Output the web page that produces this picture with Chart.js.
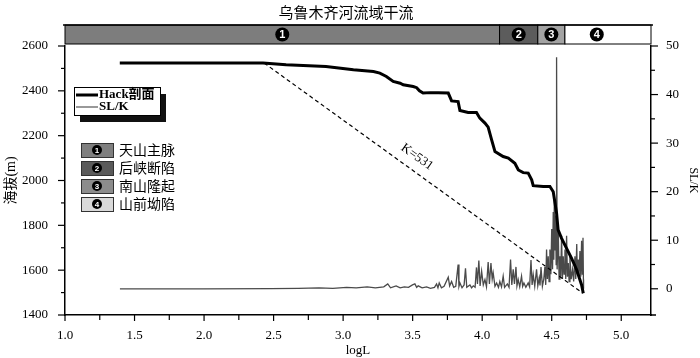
<!DOCTYPE html>
<html>
<head>
<meta charset="utf-8">
<script src="https://cdn.jsdelivr.net/npm/chart.js@4.4.1/dist/chart.umd.min.js"></script>
<style>
body { margin: 0; background: #fff; }
#wrap { width: 700px; height: 358px; }
</style>
</head>
<body>
<div id="wrap"><canvas id="myChart"></canvas></div>
<script>
// Hack profile (logL, elevation m)
var hackX = [1.394, 2.424, 2.590, 2.877, 3.074, 3.218, 3.264, 3.311, 3.360, 3.410, 3.432, 3.504, 3.529, 3.549, 3.575, 3.628, 3.684, 3.756, 3.780, 3.827, 3.840, 3.899, 3.959, 3.983, 4.020, 4.043, 4.068, 4.092, 4.151, 4.188, 4.235, 4.260, 4.295, 4.331, 4.356, 4.367, 4.439, 4.487, 4.511, 4.524, 4.535, 4.546, 4.571, 4.606, 4.643, 4.680, 4.715, 4.727];
var hackY = [2524, 2524, 2516, 2509, 2494, 2486, 2479, 2464, 2442, 2434, 2427, 2419, 2414, 2400, 2390, 2392, 2392, 2390, 2355, 2352, 2312, 2303, 2303, 2278, 2256, 2238, 2181, 2129, 2107, 2100, 2077, 2047, 2035, 2033, 2003, 1977, 1973, 1973, 1950, 1899, 1854, 1780, 1742, 1698, 1653, 1601, 1534, 1497];

// K=531 reference line
var kLineX = [2.432, 4.724];
var kLineY = [2524, 1497];

// SL/K (right axis)
var slkX = [1.395, 1.988, 2.482, 2.679, 2.827, 2.926, 3.025, 3.094, 3.173, 3.232, 3.292, 3.321, 3.341, 3.381, 3.410, 3.440, 3.470, 3.499, 3.516, 3.529, 3.540, 3.568, 3.600, 3.628, 3.657, 3.672, 3.682, 3.691, 3.707, 3.726, 3.756, 3.766, 3.780, 3.795, 3.810, 3.827, 3.833, 3.840, 3.855, 3.870, 3.880, 3.889, 3.912, 3.924, 3.936, 3.949, 3.959, 3.966, 3.976, 3.985, 3.996, 4.008, 4.020, 4.031, 4.043, 4.052, 4.063, 4.072, 4.079, 4.092, 4.104, 4.117, 4.127, 4.139, 4.151, 4.161, 4.181, 4.193, 4.204, 4.213, 4.223, 4.232, 4.243, 4.250, 4.259, 4.270, 4.283, 4.291, 4.300, 4.314, 4.331, 4.341, 4.351, 4.359, 4.367, 4.378, 4.391, 4.400, 4.410, 4.416, 4.423, 4.433, 4.443, 4.451, 4.457, 4.463, 4.469, 4.475, 4.481, 4.487, 4.494, 4.500, 4.506, 4.511, 4.515, 4.519, 4.524, 4.528, 4.532, 4.535, 4.539, 4.547, 4.553, 4.559, 4.565, 4.571, 4.577, 4.583, 4.589, 4.595, 4.601, 4.607, 4.613, 4.619, 4.625, 4.631, 4.640, 4.650, 4.658, 4.667, 4.673, 4.680, 4.684, 4.690, 4.696, 4.703, 4.709, 4.715, 4.720, 4.725, 4.728, 4.729];
var slkY = [0.0, 0.0, 0.05, 0.1, 0.2, 0.1, 0.3, 0.2, 0.4, 0.2, 0.4, 1.0, 0.2, 0.6, 0.2, 0.4, 0.3, 0.8, 1.0, 0.3, 0.6, 0.2, 0.4, 0.1, 0.3, 1.0, 0.2, 1.2, 0.2, 0.5, 2.4, 0.6, 1.5, 0.3, 0.5, 5.0, 0.5, 1.2, 0.2, 0.8, 4.2, 0.3, 0.8, 0.2, 0.6, 0.3, 4.4, 1.0, 5.8, 0.6, 3.6, 0.8, 1.9, 0.4, 5.5, 1.0, 5.3, 2.0, 3.3, 0.5, 1.2, 0.3, 1.5, 0.4, 2.6, 0.3, 1.0, 0.3, 6.0, 0.8, 4.0, 1.0, 4.5, 0.6, 1.9, 0.4, 2.6, 0.5, 1.2, 0.3, 1.2, 0.4, 5.9, 0.8, 2.9, 0.5, 4.0, 0.6, 2.2, 0.7, 4.5, 0.5, 2.0, 4.5, 0.8, 8.1, 2.0, 6.7, 1.5, 8.1, 3.0, 12.3, 4.0, 15.8, 6.0, 19.6, 8.0, 15.1, 5.0, 47.7, 4.0, 12.3, 2.0, 6.7, 2.5, 10.9, 2.0, 6.7, 3.0, 8.1, 2.0, 10.9, 2.5, 5.3, 1.5, 6.7, 2.0, 4.0, 1.5, 6.7, 2.0, 9.2, 3.0, 6.0, 2.0, 7.8, 2.5, 9.9, 3.0, 10.5, 1.9, 0];

// tectonic zones along the top
var zoneNames = ['天山主脉', '后峡断陷', '南山隆起', '山前坳陷'];
var zoneEdges = [1.0, 4.125, 4.40, 4.595, 5.214];

// ticks
var xTickValues = [1.0, 1.25, 1.5, 1.75, 2.0, 2.25, 2.5, 2.75, 3.0, 3.25, 3.5, 3.75, 4.0, 4.25, 4.5, 4.75, 5.0];
var xTickLabels = ['1.0', '', '1.5', '', '2.0', '', '2.5', '', '3.0', '', '3.5', '', '4.0', '', '4.5', '', '5.0'];
var leftTickValues = [1400, 1500, 1600, 1700, 1800, 1900, 2000, 2100, 2200, 2300, 2400, 2500, 2600];
var leftTickLabels = ['1400', '', '1600', '', '1800', '', '2000', '', '2200', '', '2400', '', '2600'];
var rightTickValues = [0, 5, 10, 15, 20, 25, 30, 35, 40, 45, 50];
var rightTickLabels = ['0', '', '10', '', '20', '', '30', '', '40', '', '50'];

var SERIF = "'Liberation Serif', 'Noto Sans CJK SC', serif";
var bandColors = ['#7d7d7d', '#5c5c5c', '#a3a3a3', '#ffffff'];
var legendColors = ['#7f7f7f', '#5a5a5a', '#8c8c8c', '#d9d9d9'];

function pts(xs, ys) {
    return xs.map(function (x, i) { return { x: x, y: ys[i] }; });
}
function setTicks(vals) {
    return function (scale) {
        scale.ticks = vals.map(function (v) { return { value: v }; });
    };
}
function labelFrom(vals, labels) {
    return function (value) {
        var i = vals.indexOf(value);
        return i >= 0 ? labels[i] : '';
    };
}

function circleNum(ctx, x, y, r, n, fontPx) {
    ctx.beginPath();
    ctx.arc(x, y, r, 0, Math.PI * 2);
    ctx.fillStyle = '#000';
    ctx.fill();
    ctx.fillStyle = '#fff';
    ctx.font = 'bold ' + fontPx + 'px Arial, sans-serif';
    ctx.textAlign = 'center';
    ctx.textBaseline = 'middle';
    ctx.fillText(String(n), x, y + 0.5);
}

var extras = {
    id: 'extras',
    afterDraw: function (chart) {
        var ctx = chart.ctx;
        var xs = chart.scales.x, yl = chart.scales.y, yr = chart.scales.y2;
        var area = chart.chartArea;
        ctx.save();

        // tick marks (outside)
        ctx.strokeStyle = '#000';
        ctx.lineWidth = 1.2;
        xs.ticks.forEach(function (t) {
            var p = xs.getPixelForValue(t.value);
            var len = t.label ? 6 : 5;
            ctx.beginPath(); ctx.moveTo(p, area.bottom); ctx.lineTo(p, area.bottom + len); ctx.stroke();
        });
        yl.ticks.forEach(function (t) {
            var p = yl.getPixelForValue(t.value);
            var len = t.label ? 7 : 4;
            ctx.beginPath(); ctx.moveTo(area.left, p); ctx.lineTo(area.left - len, p); ctx.stroke();
        });
        yr.ticks.forEach(function (t) {
            var p = yr.getPixelForValue(t.value);
            var len = t.label ? 7 : 4;
            ctx.beginPath(); ctx.moveTo(area.right, p); ctx.lineTo(area.right + len, p); ctx.stroke();
        });
        ctx.lineWidth = 1.5;
        ctx.beginPath(); ctx.moveTo(area.right, area.bottom); ctx.lineTo(area.right + 5, area.bottom); ctx.stroke();

        // title
        ctx.fillStyle = '#000';
        ctx.font = "15px 'Noto Sans CJK SC', sans-serif";
        ctx.textAlign = 'center';
        ctx.textBaseline = 'middle';
        ctx.fillText('乌鲁木齐河流域干流', 346, 12);

        // zone band
        var bTop = area.top - 21, bH = 19;
        for (var i = 0; i < 4; i++) {
            var x0 = xs.getPixelForValue(zoneEdges[i]);
            var x1 = xs.getPixelForValue(zoneEdges[i + 1]);
            ctx.fillStyle = bandColors[i];
            ctx.fillRect(x0, bTop, x1 - x0, bH);
            ctx.strokeStyle = '#000';
            ctx.lineWidth = 1;
            ctx.strokeRect(x0, bTop, x1 - x0, bH);
            var cx = i === 3 ? x0 + (x1 - x0) * 0.37 : (x0 + x1) / 2;
            circleNum(ctx, cx, bTop + bH / 2, 7, i + 1, 11);
        }
        ctx.lineWidth = 1.5;
        ctx.beginPath(); ctx.moveTo(area.left - 2, bTop); ctx.lineTo(area.right + 2, bTop); ctx.stroke();

        // series legend box with shadow
        ctx.fillStyle = '#111';
        ctx.fillRect(80, 94, 86, 28);
        ctx.fillStyle = '#fff';
        ctx.fillRect(74, 87, 86, 28);
        ctx.strokeStyle = '#000';
        ctx.lineWidth = 1;
        ctx.strokeRect(74.5, 87.5, 86, 28);
        ctx.lineWidth = 3;
        ctx.beginPath(); ctx.moveTo(76, 95); ctx.lineTo(98, 95); ctx.stroke();
        ctx.strokeStyle = '#777';
        ctx.lineWidth = 1.5;
        ctx.beginPath(); ctx.moveTo(76, 107); ctx.lineTo(98, 107); ctx.stroke();
        ctx.fillStyle = '#000';
        ctx.textAlign = 'left';
        ctx.font = 'bold 13px ' + SERIF;
        ctx.fillText('Hack剖面', 99, 95);
        ctx.fillText('SL/K', 99, 107);

        // zone legend
        var rows = [150, 168, 186, 204];
        for (var j = 0; j < 4; j++) {
            ctx.fillStyle = legendColors[j];
            ctx.fillRect(81, rows[j] - 7, 32, 14);
            ctx.strokeStyle = '#333';
            ctx.lineWidth = 1;
            ctx.strokeRect(81.5, rows[j] - 6.5, 32, 14);
            circleNum(ctx, 97, rows[j], 5, j + 1, 8);
            ctx.fillStyle = '#000';
            ctx.textAlign = 'left';
            ctx.font = "14px 'Noto Sans CJK SC', sans-serif";
            ctx.fillText(zoneNames[j], 119, rows[j]);
        }

        // K label along the dashed line
        ctx.translate(417, 157);
        ctx.rotate(Math.atan2(230, 320));
        ctx.font = '13px ' + SERIF;
        ctx.textAlign = 'center';
        ctx.fillStyle = '#000';
        ctx.fillText('K=531', 0, 0);

        ctx.restore();
    }
};

var ctx = document.getElementById('myChart').getContext('2d');
var chart = new Chart(ctx, {
    type: 'line',
    data: {
        datasets: [{
            label: 'Hack剖面',
            data: pts(hackX, hackY),
            borderColor: '#000',
            borderWidth: 3,
            pointRadius: 0,
            yAxisID: 'y'
        }, {
            label: 'K=531',
            data: pts(kLineX, kLineY),
            borderColor: '#000',
            borderWidth: 1.2,
            borderDash: [4, 3],
            pointRadius: 0,
            yAxisID: 'y'
        }, {
            label: 'SL/K',
            data: pts(slkX, slkY),
            borderColor: '#4a4a4a',
            borderWidth: 1.3,
            pointRadius: 0,
            yAxisID: 'y2'
        }]
    },
    options: {
        responsive: true,
        maintainAspectRatio: false,
        animation: false,
        devicePixelRatio: 1,
        layout: { padding: { top: 46, left: 0, right: 0, bottom: 0 } },
        plugins: {
            legend: { display: false },
            title: { display: false },
            tooltip: { enabled: false }
        },
        scales: {
            x: {
                type: 'linear',
                min: 1.0,
                max: 5.214,
                afterBuildTicks: setTicks(xTickValues),
                afterFit: function (s) { s.height = 43; },
                grid: { display: false },
                border: { display: true, color: '#000', width: 1.5 },
                ticks: {
                    autoSkip: false, maxRotation: 0, padding: 5,
                    color: '#000', font: { family: SERIF, size: 13 },
                    callback: labelFrom(xTickValues, xTickLabels)
                },
                title: { display: true, text: 'logL', color: '#000', font: { family: SERIF, size: 13 }, padding: { top: 0, bottom: 0 } }
            },
            y: {
                position: 'left',
                min: 1400,
                max: 2600,
                afterBuildTicks: setTicks(leftTickValues),
                afterFit: function (s) { s.width = 65; },
                grid: { display: false },
                border: { display: true, color: '#000', width: 1.5 },
                ticks: {
                    autoSkip: false, padding: 9,
                    color: '#000', font: { family: SERIF, size: 13 },
                    callback: labelFrom(leftTickValues, leftTickLabels)
                },
                title: { display: true, text: '海拔(m)', color: '#000', font: { family: SERIF, size: 14 }, padding: { top: 3, bottom: 0 } }
            },
            y2: {
                position: 'right',
                min: -5.4,
                max: 50,
                afterBuildTicks: setTicks(rightTickValues),
                afterFit: function (s) { s.width = 49; },
                grid: { display: false },
                border: { display: true, color: '#000', width: 1.5 },
                ticks: {
                    autoSkip: false, padding: 7,
                    color: '#000', font: { family: SERIF, size: 13 },
                    callback: labelFrom(rightTickValues, rightTickLabels)
                },
                title: { display: true, text: 'SL/K', color: '#000', font: { family: SERIF, size: 12 }, padding: { top: 0, bottom: 4 } }
            }
        }
    },
    plugins: [extras]
});
</script>
</body>
</html>
